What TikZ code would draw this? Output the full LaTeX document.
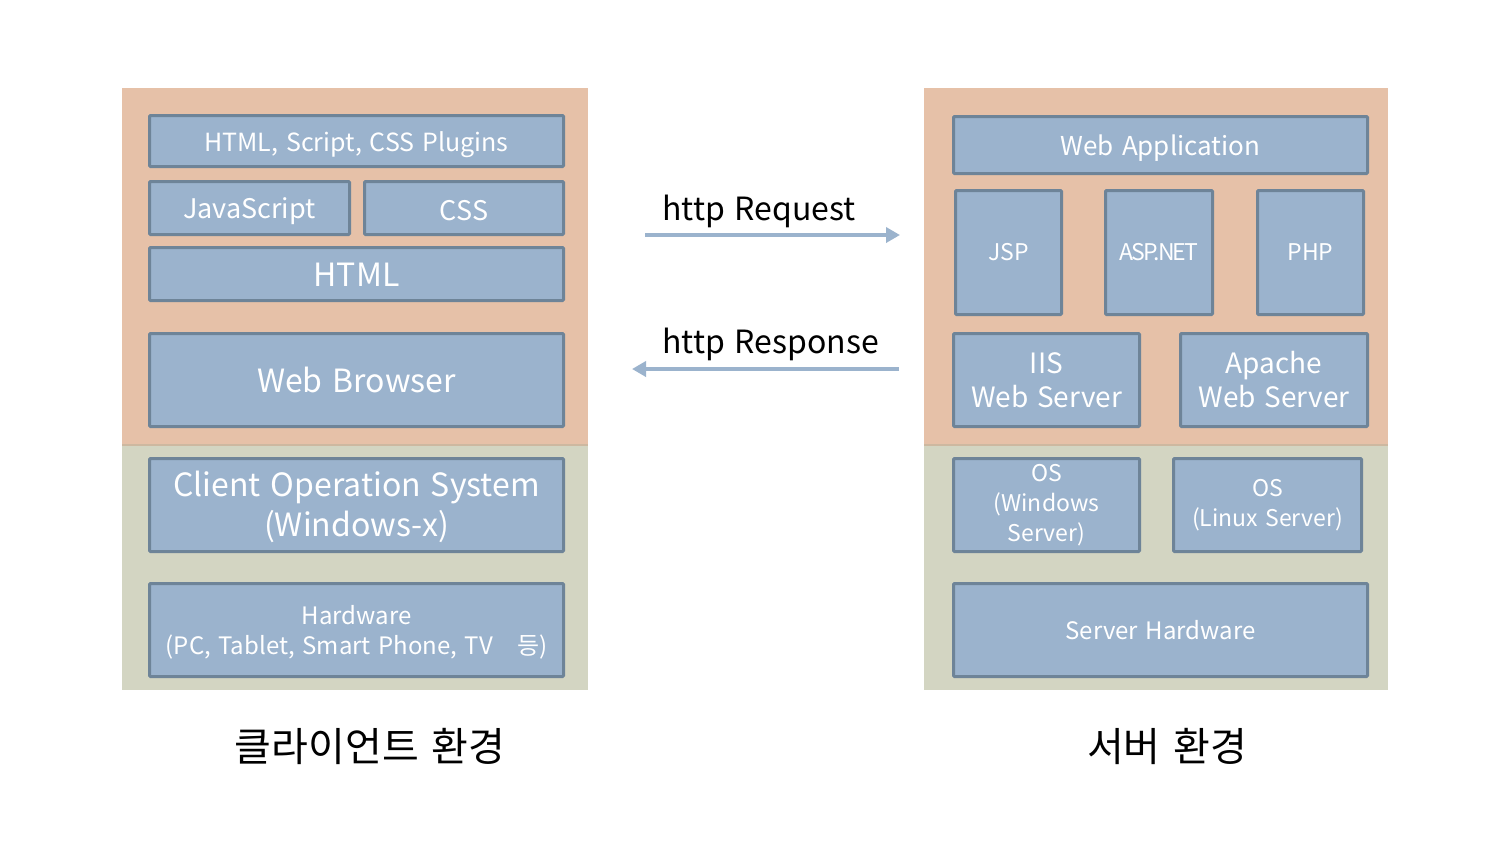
\documentclass[tikz,border=0pt]{standalone}
\usepackage{fontspec}
\setmainfont{Noto Sans CJK KR}[WordSpace=1.4]
\usetikzlibrary{arrows.meta}
\definecolor{peach}{HTML}{E6C1A8}
\definecolor{sage}{HTML}{D3D5C2}
\definecolor{boxfill}{HTML}{9BB3CD}
\definecolor{boxline}{HTML}{6E8498}
\definecolor{seam}{HTML}{CDB8A0}
\tikzset{
  box/.style={draw=boxline, fill=boxfill, line width=3pt, rounded corners=1pt,
    text=white, align=center, inner sep=0pt},
  conn/.style={draw=boxfill, line width=4pt, -{Triangle[length=14pt,width=15pt]}},
  lbl/.style={text=black, inner sep=0pt, font=\fontsize{32}{38}\selectfont},
  title/.style={text=black, inner sep=0pt, font=\fontsize{40}{46}\selectfont},
}
\newcommand{\fs}[2]{\fontsize{#1}{#2}\selectfont}
\newcommand{\dn}[2]{\raisebox{-#1pt}[\height][\depth]{#2}}
\begin{document}
\begin{tikzpicture}[x=1pt,y=-1pt]
\useasboundingbox[fill=white] (0,0) rectangle (1500,860);
% panels
\fill[peach] (122,88) rectangle (588,445);
\fill[sage] (122,445) rectangle (588,690);
\draw[seam, line width=1.5pt] (122,445) -- (588,445);
\fill[peach] (924,88) rectangle (1388,445);
\fill[sage] (924,445) rectangle (1388,690);
\draw[seam, line width=1.5pt] (924,445) -- (1388,445);
% client boxes
\node[box, minimum width=414pt, minimum height=51pt, font=\fs{25}{30}] (plug) at (356.5,141) {\dn{4}{HTML, Script, CSS Plugins}};
\node[box, minimum width=200pt, minimum height=53pt, font=\fs{27}{32}] (js) at (249.5,208) {\dn{3}{JavaScript}};
\node[box, minimum width=199pt, minimum height=53pt, font=\fs{27}{32}] (css) at (464,208) {\dn{3}{CSS}};
\node[box, minimum width=414pt, minimum height=53pt, font=\fs{32}{38}] (html) at (356.5,274) {\dn{1}{HTML}};
\node[box, minimum width=414pt, minimum height=93pt, font=\fs{32}{38}] (wb) at (356.5,380) {Web Browser};
\node[box, minimum width=414pt, minimum height=93pt, font=\fs{32}{40}] (cos) at (356.5,505) {\dn{2}{\parbox{400pt}{\centering Client Operation System\\(Windows-x)}}};
\node[box, minimum width=414pt, minimum height=93pt, font=\fs{24}{30}] (hw) at (356.5,630) {\dn{2}{\parbox{400pt}{\centering Hardware\\(PC, Tablet, Smart Phone, TV\quad 등)}}};
% server boxes
\node[box, minimum width=414pt, minimum height=57pt, font=\fs{26}{30}] (wa) at (1160.5,145) {\dn{3}{Web Application}};
\node[box, minimum width=106pt, minimum height=124pt, font=\fs{23}{28}] (jsp) at (1008.5,252.5) {JSP};
\node[box, minimum width=107pt, minimum height=124pt, font=\fs{23}{28}] (asp) at (1159,252.5) {\addfontfeature{LetterSpace=-8}ASP.NET};
\node[box, minimum width=106pt, minimum height=124pt, font=\fs{23}{28}] (php) at (1310.5,252.5) {PHP};
\node[box, minimum width=186pt, minimum height=93pt, font=\fs{28}{34}] (iis) at (1046.5,380) {IIS\\Web Server};
\node[box, minimum width=187pt, minimum height=93pt, font=\fs{28}{34}] (apache) at (1274,380) {Apache\\Web Server};
\node[box, minimum width=186pt, minimum height=93pt, font=\fs{23}{30}] (osw) at (1046.5,505) {OS\\(Windows\\Server)};
\node[box, minimum width=188pt, minimum height=93pt, font=\fs{23}{30}] (osl) at (1267.5,505) {OS\\(Linux Server)};
\node[box, minimum width=414pt, minimum height=93pt, font=\fs{24}{28}] (shw) at (1160.5,630) {Server Hardware};
% arrows
\coordinate (reqA) at (645,235);
\coordinate (reqB) at (900,235);
\coordinate (resA) at (899,369);
\coordinate (resB) at (632,369);
\draw[conn] (reqA) -- (reqB);
\draw[conn] (resA) -- (resB);
\node[lbl, anchor=base west] (reqL) at (662,220) {http Request};
\node[lbl, anchor=base west] (resL) at (662,353) {http Response};
% titles
\node[title] (ct) at (370,746) {클라이언트 환경};
\node[title] (st) at (1167,746) {서버 환경};
\end{tikzpicture}
\end{document}
